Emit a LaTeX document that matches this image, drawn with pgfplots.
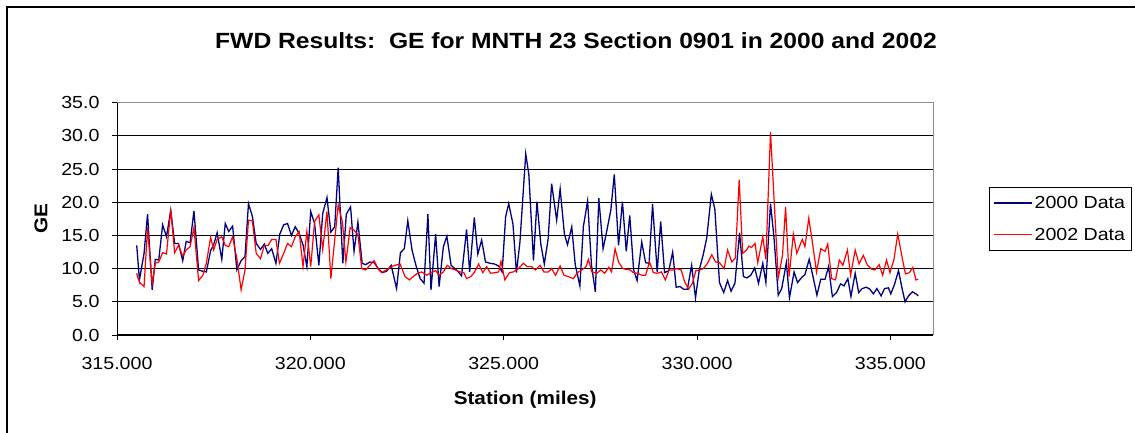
\documentclass[border=0pt]{standalone}
\usepackage{fontspec}
\setmainfont{Liberation Sans}[FakeStretch=1.12]
\usepackage{pgfplots}
\pgfplotsset{compat=1.18}
\usepackage{pgfplotstable}
\definecolor{navyb}{RGB}{0,0,128}
\definecolor{redr}{RGB}{255,0,0}

\pgfplotstableread{
x y
315.51 13.5
315.58 8.3
315.70 12.3
315.79 18.2
315.91 6.8
315.99 11.4
316.08 11.3
316.18 16.6
316.28 14.8
316.39 18.8
316.49 13.8
316.59 13.8
316.70 11.2
316.79 14.1
316.89 13.9
316.99 18.7
317.11 9.8
317.22 9.6
317.31 9.5
317.42 12.7
317.50 13.6
317.59 15.4
317.71 11.4
317.80 16.8
317.89 15.6
317.99 16.4
318.10 9.8
318.21 11.2
318.31 11.8
318.40 19.8
318.50 17.9
318.60 13.8
318.71 12.9
318.81 13.7
318.90 12.3
319.00 13.0
319.11 10.8
319.21 15.2
319.31 16.6
319.41 16.8
319.51 15.0
319.61 16.3
319.71 15.3
319.81 13.6
319.91 10.3
320.01 18.6
320.11 16.8
320.22 10.5
320.32 18.3
320.43 20.7
320.53 15.5
320.63 16.3
320.72 25.2
320.84 10.8
320.93 18.2
321.04 19.3
321.13 12.6
321.23 17.0
321.34 10.8
321.43 10.6
321.54 11.0
321.65 10.9
321.76 10.0
321.86 9.4
321.97 9.6
322.09 10.5
322.23 7.0
322.33 12.4
322.43 13.0
322.52 17.2
322.63 12.8
322.73 10.5
322.84 8.5
322.94 7.8
323.04 18.2
323.12 6.8
323.24 15.2
323.33 7.3
323.44 13.3
323.53 14.9
323.64 10.5
323.74 10.0
323.83 9.5
323.91 8.9
324.04 15.9
324.12 9.5
324.24 17.7
324.33 12.2
324.43 14.3
324.53 11.0
324.65 10.8
324.76 10.7
324.87 10.4
324.96 9.5
325.05 17.8
325.13 19.8
325.24 16.7
325.33 9.4
325.42 14.0
325.57 27.3
325.65 24.2
325.77 11.2
325.86 20.1
325.96 13.7
326.05 10.7
326.15 14.5
326.24 22.8
326.37 17.3
326.46 22.0
326.57 15.2
326.65 13.6
326.76 16.3
326.85 10.6
326.97 7.4
327.06 16.3
327.17 20.2
327.27 10.5
327.37 6.5
327.46 20.6
327.57 13.0
327.67 15.8
327.77 18.8
327.86 24.2
327.97 13.5
328.07 20.1
328.17 12.6
328.26 18.0
328.36 9.8
328.45 8.2
328.57 14.0
328.67 10.9
328.76 10.8
328.85 19.7
328.97 9.5
329.06 17.1
329.16 9.4
329.27 9.7
329.37 12.5
329.46 7.2
329.56 7.3
329.65 6.9
329.75 6.9
329.86 10.5
329.96 5.6
330.06 9.9
330.16 12.1
330.25 14.6
330.37 21.2
330.46 19.0
330.58 7.9
330.69 6.4
330.79 8.2
330.88 6.6
330.98 7.8
331.10 15.4
331.20 8.8
331.29 8.6
331.39 9.0
331.49 10.1
331.59 7.8
331.70 10.8
331.78 7.9
331.90 19.8
331.99 14.7
332.10 6.0
332.19 7.0
332.31 10.9
332.39 5.6
332.51 9.5
332.60 7.9
332.71 8.7
332.79 9.1
332.90 11.4
332.98 9.3
333.10 6.0
333.20 8.4
333.31 8.4
333.40 10.3
333.50 5.8
333.61 6.4
333.71 7.7
333.80 7.4
333.90 8.5
333.98 5.8
334.09 9.3
334.18 6.4
334.27 7.0
334.38 7.2
334.47 6.9
334.56 6.2
334.65 7.0
334.76 5.9
334.85 7.0
334.95 7.1
335.01 6.2
335.10 7.5
335.21 9.7
335.31 6.8
335.38 5.0
335.47 5.9
335.57 6.5
335.66 6.2
335.72 5.9
}\dataA

\pgfplotstableread{
x y
315.51 9.3
315.54 8.6
315.59 7.9
315.70 7.3
315.79 16.1
315.91 7.7
315.99 10.8
316.08 11.0
316.18 12.4
316.28 12.2
316.39 18.9
316.49 12.4
316.59 13.5
316.70 11.9
316.79 12.8
316.89 13.3
316.99 16.2
317.11 8.2
317.22 9.0
317.31 10.8
317.42 14.7
317.50 12.8
317.59 14.4
317.71 14.8
317.80 13.5
317.89 13.3
317.99 14.8
318.10 11.5
318.21 6.8
318.31 9.8
318.40 17.3
318.50 17.2
318.60 12.3
318.71 11.5
318.81 13.5
318.91 13.5
319.00 14.4
319.11 14.4
319.20 10.8
319.31 12.3
319.41 13.8
319.51 13.3
319.61 14.8
319.71 15.6
319.81 10.3
319.91 15.6
320.01 10.3
320.11 17.1
320.22 18.1
320.32 12.9
320.43 18.6
320.53 8.5
320.63 14.3
320.72 19.6
320.83 17.0
320.92 11.0
321.03 16.2
321.13 15.8
321.23 15.1
321.33 10.0
321.43 9.8
321.54 10.5
321.65 11.2
321.76 9.9
321.84 9.4
321.97 9.8
322.09 10.3
322.19 10.5
322.32 10.7
322.45 8.8
322.56 8.3
322.66 8.8
322.77 9.3
322.88 9.5
323.01 9.0
323.12 9.4
323.24 9.7
323.33 9.0
323.44 9.5
323.54 10.5
323.65 10.0
323.75 9.8
323.87 9.5
323.97 9.4
324.04 8.5
324.15 8.8
324.25 9.5
324.35 10.7
324.46 9.4
324.56 10.3
324.66 9.3
324.78 9.4
324.87 9.5
324.93 11.1
325.03 8.3
325.15 9.4
325.25 9.5
325.38 10.0
325.51 10.8
325.61 10.3
325.72 10.3
325.82 9.8
325.94 10.5
326.04 9.5
326.15 9.5
326.24 10.0
326.34 9.0
326.46 10.4
326.56 9.0
326.67 8.8
326.80 8.5
326.91 9.4
327.02 9.8
327.13 10.3
327.19 11.4
327.28 9.5
327.41 9.3
327.51 9.8
327.61 9.3
327.72 10.2
327.79 9.5
327.88 13.0
327.97 11.0
328.08 10.0
328.16 9.9
328.27 9.8
328.35 9.4
328.46 9.3
328.57 9.0
328.67 9.0
328.77 11.0
328.87 9.4
328.97 9.3
329.08 9.5
329.18 8.3
329.28 9.8
329.39 9.8
329.47 10.0
329.59 9.8
329.68 8.0
329.78 6.9
329.88 7.8
329.97 9.7
330.08 9.8
330.16 10.0
330.27 10.8
330.38 12.1
330.48 11.0
330.58 10.9
330.70 10.0
330.79 12.8
330.90 11.0
330.99 11.6
331.09 23.4
331.18 12.3
331.28 12.8
331.34 13.4
331.41 13.2
331.50 13.8
331.57 10.9
331.70 14.8
331.78 11.4
331.90 30.6
331.99 20.7
332.10 8.6
332.21 12.0
332.29 19.3
332.38 8.8
332.49 15.2
332.58 12.3
332.66 13.5
332.72 14.4
332.79 13.3
332.89 17.6
332.99 13.7
333.09 9.5
333.20 13.0
333.31 12.6
333.38 13.7
333.48 8.5
333.58 8.3
333.68 11.3
333.77 10.5
333.89 12.8
333.97 9.0
334.09 12.8
334.19 10.7
334.30 12.0
334.40 10.6
334.52 9.9
334.60 9.8
334.71 10.6
334.80 9.0
334.90 11.3
334.99 9.4
335.09 11.3
335.19 15.2
335.32 11.2
335.39 9.2
335.49 9.4
335.58 10.2
335.66 8.3
335.72 8.4
}\dataB

\begin{document}
\begin{tikzpicture}[x=1pt,y=1pt]
\useasboundingbox (0,0) rectangle (1135,433);
\draw[line width=1.5pt] (7,-30) rectangle (1170,426);
\node[font=\fontsize{22}{26}\selectfont\bfseries] at (576,392) {FWD Results:\ \ GE for MNTH 23 Section 0901 in 2000 and 2002};
\begin{axis}[
  at={(117pt,98pt)}, anchor=south west,
  scale only axis, width=816.3pt, height=232.3pt,
  xmin=315, xmax=336.11, ymin=0, ymax=35,
  xtick={315,320,325,330,335},
  ytick={0,5,10,15,20,25,30,35},
  ymajorgrids, grid style={black, line width=0.9pt},
  axis line style={draw=gray!90, line width=1pt},
  tick align=outside, xtick pos=bottom, ytick pos=left,
  major tick length=5pt, tick style={black, line width=0.9pt},
  /pgf/number format/assume math mode=true,
  ticklabel style={font=\fontsize{17.5}{20}\selectfont},
  xticklabel style={yshift=-14pt, /pgf/number format/.cd, fixed, fixed zerofill, precision=3, 1000 sep={}},
  yticklabel style={xshift=-9pt, /pgf/number format/.cd, fixed, fixed zerofill, precision=1},
  xlabel={Station (miles)},
  ylabel={GE},
  every axis x label/.style={at={(axis description cs:0.5,-0.2798)}, anchor=center, font=\fontsize{18.5}{21}\selectfont\bfseries},
  every axis y label/.style={at={(axis description cs:-0.0931,0.5)}, anchor=center, rotate=90, font=\fontsize{18.5}{21}\selectfont\bfseries},
  legend style={at={(1.068,0.638)}, anchor=north west, draw=black, line width=0.8pt,
    font=\fontsize{17.5}{20}\selectfont, row sep=14pt, inner xsep=4pt, inner ysep=7pt},
  legend cell align=left,
  legend image code/.code={\draw[#1, line width=1.4pt] (0pt,0pt) -- (38pt,0pt);},
  after end axis/.code={\draw[black, line width=1pt] (rel axis cs:0,1) -- (rel axis cs:0,0) -- (rel axis cs:1,0);}
]
\addplot[navyb, line width=1.3pt] table[x=x,y=y] {\dataA};
\addlegendentry{2000 Data}
\addplot[redr, line width=1.2pt] table[x=x,y=y] {\dataB};
\addlegendentry{2002 Data}
\end{axis}
\end{tikzpicture}
\end{document}
